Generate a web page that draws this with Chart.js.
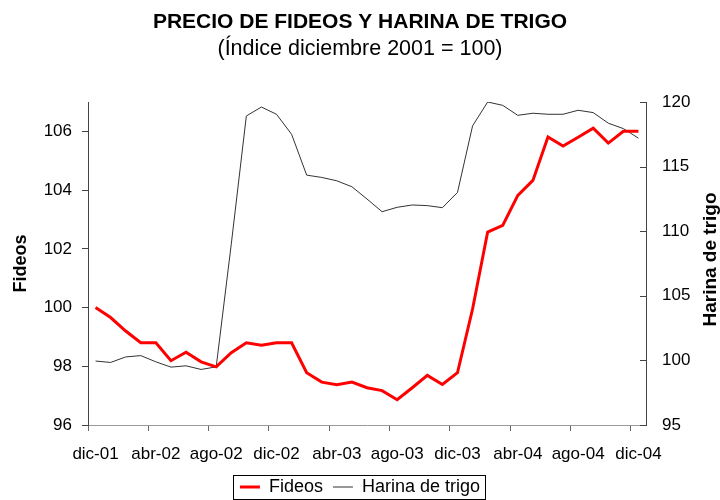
<!DOCTYPE html>
<html>
<head>
<meta charset="utf-8">
<script src="https://cdn.jsdelivr.net/npm/chart.js@4.4.1/dist/chart.umd.min.js"></script>
<style>
  html, body { margin: 0; padding: 0; background: #fff; }
  #wrap { width: 720px; height: 500px; }
</style>
</head>
<body>
<div id="wrap"><canvas id="precioChart" width="720" height="500"></canvas></div>
<script>
const meses = [
    'dic-01',
    'ene-02', 'feb-02', 'mar-02', 'abr-02', 'may-02', 'jun-02', 'jul-02', 'ago-02', 'sep-02', 'oct-02', 'nov-02', 'dic-02',
    'ene-03', 'feb-03', 'mar-03', 'abr-03', 'may-03', 'jun-03', 'jul-03', 'ago-03', 'sep-03', 'oct-03', 'nov-03', 'dic-03',
    'ene-04', 'feb-04', 'mar-04', 'abr-04', 'may-04', 'jun-04', 'jul-04', 'ago-04', 'sep-04', 'oct-04', 'nov-04', 'dic-04'
];

const fideos = [
    100.0,
    99.66, 99.2, 98.8, 98.8, 98.19, 98.48, 98.15, 97.98, 98.46, 98.8, 98.72, 98.8,
    98.8, 97.78, 97.46, 97.37, 97.46, 97.27, 97.17, 96.86, 97.27, 97.69, 97.38, 97.78,
    99.95, 102.57, 102.8, 103.82, 104.33, 105.81, 105.5, 105.8, 106.11, 105.6, 106.0, 106.0
];

const harina = [
    99.95,
    99.84, 100.27, 100.37, 99.89, 99.48, 99.58, 99.3, 99.5, 109.0, 118.92, 119.61, 119.05,
    117.5, 114.34, 114.16, 113.9, 113.44, 112.49, 111.51, 111.85, 112.03, 111.98, 111.82, 113.0,
    118.15, 120.0, 119.74, 118.97, 119.13, 119.05, 119.05, 119.36, 119.18, 118.36, 117.94, 117.2
];

const ticksFideos = { min: 96, max: 107, step: 2 };
const ticksHarina = { min: 95, max: 120, step: 5 };

const font = 'Arial, "Liberation Sans", sans-serif';

// right axis title reads bottom-to-top in the original, plus inward ticks
const extrasPlugin = {
    id: 'extras',
    afterDraw(chart) {
        const c = chart.ctx;
        const area = chart.chartArea;
        const y1 = chart.scales.y1;

        c.save();
        c.strokeStyle = '#444';
        c.lineWidth = 1;
        y1.ticks.forEach(t => {
            const py = Math.round(y1.getPixelForValue(t.value)) + 0.5;
            c.beginPath();
            c.moveTo(area.right - 6, py);
            c.lineTo(area.right, py);
            c.stroke();
        });

        c.translate(711, (area.top + area.bottom) / 2 - 4);
        c.rotate(-Math.PI / 2);
        c.fillStyle = '#000';
        c.font = 'bold 19px ' + font;
        c.textAlign = 'center';
        c.textBaseline = 'middle';
        c.fillText('Harina de trigo', 0, 0);
        c.restore();

        // frame around the legend items
        const boxes = chart.legend.legendHitBoxes;
        if (boxes && boxes.length) {
            const left = Math.min(...boxes.map(b => b.left)) - 7;
            const right = Math.max(...boxes.map(b => b.left + b.width)) + 5;
            const top = Math.min(...boxes.map(b => b.top)) - 3;
            const bottom = Math.max(...boxes.map(b => b.top + b.height)) + 3;
            c.save();
            c.strokeStyle = '#000';
            c.lineWidth = 1;
            c.strokeRect(Math.round(left) + 0.5, Math.round(top) + 0.5, Math.round(right - left), Math.round(bottom - top));
            c.restore();
        }
    }
};

new Chart(document.getElementById('precioChart').getContext('2d'), {
    type: 'line',
    data: {
        labels: meses,
        datasets: [{
            label: 'Fideos',
            data: fideos,
            yAxisID: 'y',
            borderColor: '#ff0000',
            backgroundColor: '#ff0000',
            borderWidth: 3,
            pointRadius: 0,
            tension: 0
        }, {
            label: 'Harina de trigo',
            data: harina,
            yAxisID: 'y1',
            borderColor: '#333333',
            backgroundColor: '#333333',
            borderWidth: 1,
            pointRadius: 0,
            tension: 0
        }]
    },
    options: {
        responsive: false,
        animation: false,
        layout: { padding: { left: 0, right: 0, top: 0, bottom: -6 } },
        plugins: {
            title: {
                display: true,
                text: 'PRECIO DE FIDEOS Y HARINA DE TRIGO',
                color: '#000',
                font: { family: font, size: 21, weight: 'bold' },
                padding: { top: 10, bottom: 1 }
            },
            subtitle: {
                display: true,
                text: '(Índice diciembre 2001 = 100)',
                color: '#000',
                font: { family: font, size: 21.5, weight: 'normal' },
                padding: { top: 0, bottom: 40 }
            },
            legend: {
                position: 'bottom',
                labels: {
                    color: '#000',
                    font: { family: font, size: 18 },
                    usePointStyle: true,
                    pointStyle: 'line',
                    pointStyleWidth: 20,
                    padding: 10
                }
            },
            tooltip: { enabled: false }
        },
        scales: {
            x: {
                type: 'category',
                offset: true,
                border: { color: '#999', width: 1 },
                grid: {
                    offset: true,
                    drawOnChartArea: false,
                    tickLength: 6,
                    tickColor: ctx => (ctx.index % 4 === 0 ? '#666' : 'rgba(0,0,0,0)')
                },
                ticks: {
                    autoSkip: false,
                    maxRotation: 0,
                    color: '#000',
                    padding: 13,
                    font: { family: font, size: 17 },
                    callback: (v, i) => (i % 4 === 0 ? meses[i] : '')
                },
                afterFit(scale) { scale.height = 43; }
            },
            y: {
                position: 'left',
                min: ticksFideos.min,
                max: ticksFideos.max,
                border: { color: '#444', width: 1 },
                grid: { drawOnChartArea: false, tickLength: 6, tickColor: '#444' },
                ticks: {
                    stepSize: ticksFideos.step,
                    includeBounds: false,
                    color: '#000',
                    padding: 10,
                    font: { family: font, size: 17 }
                },
                title: {
                    display: true,
                    text: 'Fideos',
                    color: '#000',
                    font: { family: font, size: 18, weight: 'bold' },
                    padding: 10
                },
                afterFit(scale) { scale.width = 88; }
            },
            y1: {
                position: 'right',
                min: ticksHarina.min,
                max: ticksHarina.max,
                border: { color: '#444', width: 1 },
                grid: { drawOnChartArea: false, drawTicks: false },
                ticks: {
                    stepSize: ticksHarina.step,
                    color: '#000',
                    padding: 16,
                    font: { family: font, size: 17 }
                },
                afterFit(scale) { scale.width = 74; }
            }
        }
    },
    plugins: [extrasPlugin]
});
</script>
</body>
</html>
